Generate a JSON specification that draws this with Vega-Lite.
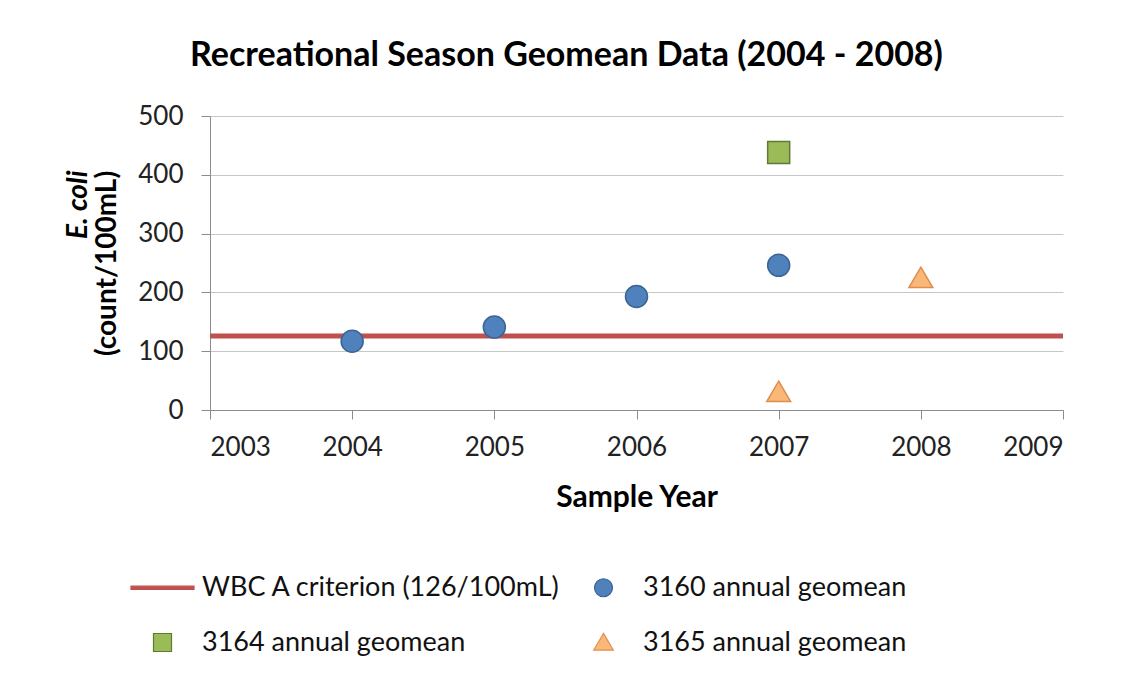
{
  "$schema": "https://vega.github.io/schema/vega-lite/v6.json",
  "width": 853,
  "height": 294,
  "autosize": "none",
  "padding": {"left": 210, "top": 116, "right": 61, "bottom": 269},
  "background": "#ffffff",
  "title": {
    "text": "Recreational Season Geomean Data (2004 - 2008)",
    "font": "Lato",
    "fontSize": 34,
    "fontWeight": "bold",
    "color": "#000000",
    "offset": 30,
    "dx": -70
  },
  "data": {
    "values": [
      {"series": "WBC A criterion (126/100mL)", "year": 2003, "value": 126},
      {"series": "WBC A criterion (126/100mL)", "year": 2009, "value": 126},
      {"series": "3160 annual geomean", "year": 2004, "value": 117},
      {"series": "3160 annual geomean", "year": 2005, "value": 141},
      {"series": "3160 annual geomean", "year": 2006, "value": 193},
      {"series": "3160 annual geomean", "year": 2007, "value": 246},
      {"series": "3164 annual geomean", "year": 2007, "value": 438},
      {"series": "3165 annual geomean", "year": 2007, "value": 30},
      {"series": "3165 annual geomean", "year": 2008, "value": 224}
    ]
  },
  "config": {
    "view": {"stroke": null},
    "axis": {
      "labelFont": "Lato",
      "labelFontSize": 26,
      "labelColor": "#222222",
      "titleFont": "Lato",
      "titleFontSize": 28,
      "titleFontWeight": "bold",
      "titleColor": "#000000",
      "domainColor": "#8c8c8c",
      "tickColor": "#8c8c8c",
      "gridColor": "#c6c6c6",
      "tickSize": 9
    },
    "legend": {
      "labelFont": "Lato",
      "labelFontSize": 27,
      "labelColor": "#111111",
      "labelLimit": 0
    }
  },
  "resolve": {"axis": {"y": "independent"}},
  "layer": [
    {
      "transform": [{"filter": "datum.series === 'WBC A criterion (126/100mL)'"}],
      "mark": {"type": "line", "strokeWidth": 5},
      "encoding": {
        "x": {
          "field": "year", "type": "quantitative",
          "scale": {"domain": [2003, 2009], "nice": false, "zero": false},
          "axis": {"values": [2003, 2004, 2005, 2006, 2007, 2008, 2009], "format": "d", "grid": false, "labelPadding": 15, "title": "Sample Year", "titleFontSize": 30, "titlePadding": 22}
        },
        "y": {
          "field": "value", "type": "quantitative",
          "scale": {"domain": [0, 500], "nice": false},
          "axis": {"values": [0, 100, 200, 300, 400, 500], "grid": true, "labelPadding": 18, "title": "(count/100mL)", "titleX": -103, "titleBaseline": "middle"}
        },
        "stroke": {
          "field": "series", "type": "nominal",
          "scale": {
            "domain": ["WBC A criterion (126/100mL)", "3160 annual geomean", "3164 annual geomean", "3165 annual geomean"],
            "range": ["#C0504D", "#3A6594", "#5E7A33", "#E08D4C"]
          }
        }
      }
    },
    {
      "transform": [{"filter": "datum.series !== 'WBC A criterion (126/100mL)'"}],
      "mark": {"type": "point", "filled": true, "size": 5929, "strokeWidth": 1.5, "opacity": 1},
      "encoding": {
        "x": {"field": "year", "type": "quantitative"},
        "y": {
          "field": "value", "type": "quantitative",
          "axis": {"orient": "left", "labels": false, "ticks": false, "domain": false, "grid": false, "title": "E. coli", "titleFontStyle": "italic", "titleX": -132, "titleY": 54, "titleAlign": "right", "titleBaseline": "middle"}
        },
        "color": {
          "field": "series", "type": "nominal",
          "scale": {
            "domain": ["WBC A criterion (126/100mL)", "3160 annual geomean", "3164 annual geomean", "3165 annual geomean"],
            "range": ["#C0504D", "#4F81BD", "#9BBB59", "#F9B878"]
          },
          "legend": {
            "orient": "none",
            "legendX": -80,
            "legendY": 439,
            "columns": 2,
            "direction": "horizontal",
            "title": null,
            "symbolSize": 3969,
            "labelOffset": 7,
            "columnPadding": 10,
            "rowPadding": 9,
            "symbolStrokeWidth": 1.2
          }
        },
        "stroke": {"field": "series", "type": "nominal"},
        "shape": {
          "field": "series", "type": "nominal",
          "scale": {
            "domain": ["WBC A criterion (126/100mL)", "3160 annual geomean", "3164 annual geomean", "3165 annual geomean"],
            "range": [
              "M-1,-0.05H1V0.05H-1Z",
              "M0.286,0A0.286,0.286,0,1,1,-0.286,0A0.286,0.286,0,1,1,0.286,0Z",
              "M-0.286,-0.286H0.286V0.286H-0.286Z",
              "M0,-0.29L0.31,0.24L-0.31,0.24Z"
            ]
          }
        }
      }
    }
  ]
}
